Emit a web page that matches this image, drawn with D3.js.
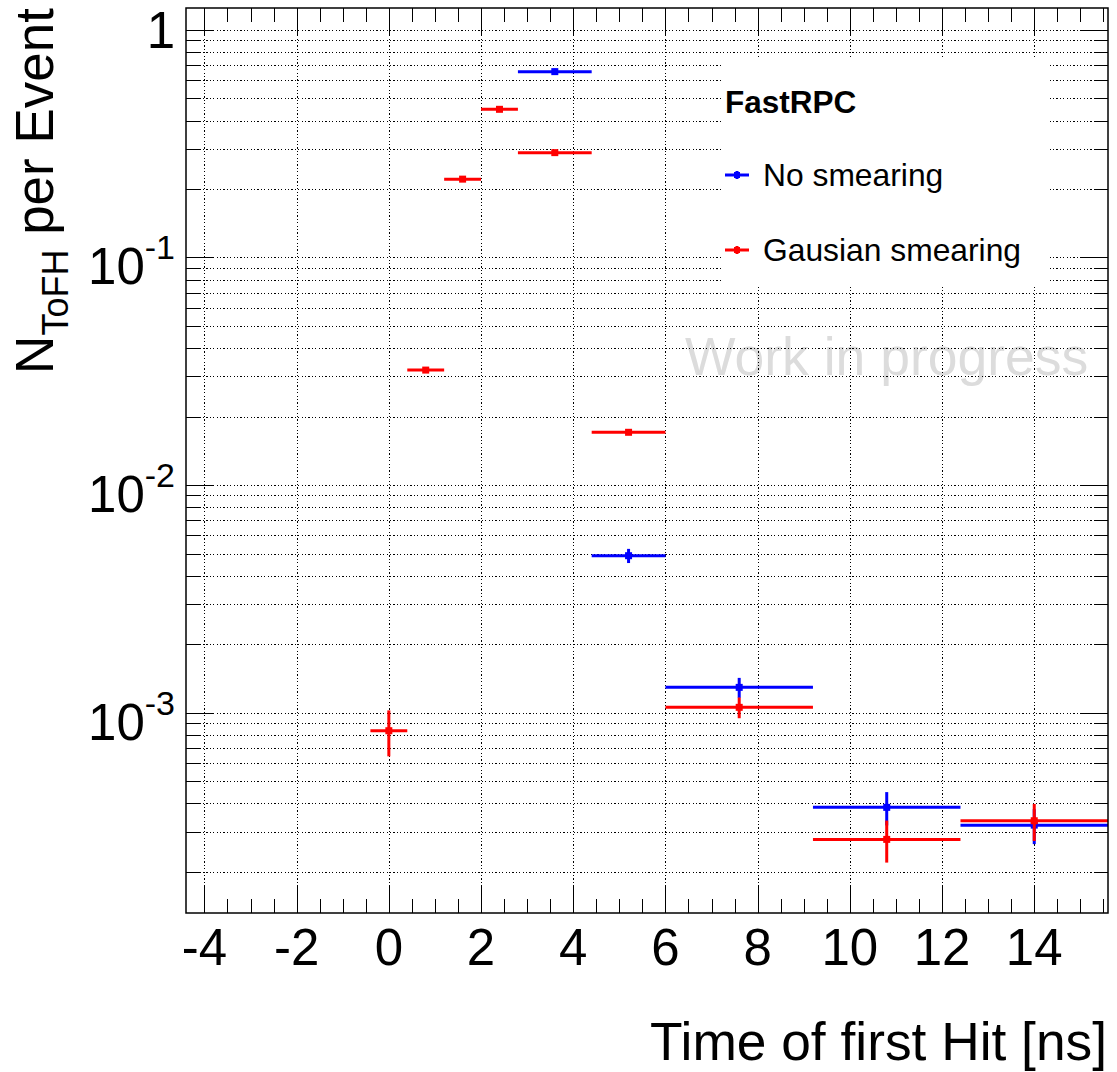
<!DOCTYPE html>
<html>
<head>
<meta charset="utf-8">
<script src="https://cdn.jsdelivr.net/npm/d3@7"></script>
<style>
  body { margin: 0; background: #fff; }
  svg { font-family: "Liberation Sans", Arial, Helvetica, sans-serif; }
</style>
</head>
<body>
<svg id="chart" width="1117" height="1072"></svg>
<script>
// bins and values for the two series
var blueLo  = [2.8, 4.4, 6.0, 9.2, 12.4];
var blueHi  = [4.4, 6.0, 9.2, 12.4, 15.6];
var blueX   = [3.6, 5.2, 7.6, 10.8, 14.0];
var blueY   = [0.656, 0.00489, 0.00129, 0.000383, 0.000320];
var blueErr = [0.02, 0.00035, 0.00013, 0.000064, 0.000056];

var redLo  = [-0.4, 0.4, 1.2, 2.0, 2.8, 4.4, 6.0, 9.2, 12.4];
var redHi  = [0.4, 1.2, 2.0, 2.8, 4.4, 6.0, 9.2, 12.4, 15.6];
var redX   = [0, 0.8, 1.6, 2.4, 3.6, 5.2, 7.6, 10.8, 14.0];
var redY   = [0.000832, 0.0320, 0.221, 0.448, 0.289, 0.01705, 0.001054, 0.000277, 0.0003345];
var redErr = [0.00019, 0.0006, 0.003, 0.005, 0.003, 0.0003, 0.00011, 0.000058, 0.000062];

var xTicks = [-4, -2, 0, 2, 4, 6, 8, 10, 12, 14];
var yDecades = [1, 0.1, 0.01, 0.001];
var yExponents = [0, -1, -2, -3];

var seriesNames = ['No smearing', 'Gausian smearing'];
var seriesColors = ['#0000ff', '#ff0000'];

var pLeft = 186, pRight = 1108, pTop = 8, pBottom = 913;

var x = d3.scaleLinear().domain([-4.4, 15.6]).range([pLeft, pRight]);
var y = d3.scaleLog().domain([1.315e-4, 1.249]).range([pBottom, pTop]);

var svg = d3.select('#chart');

// watermark (under the grid)
svg.append('text')
  .attr('x', 685)
  .attr('y', 375)
  .attr('font-size', 53.5)
  .attr('fill', '#dcdcdc')
  .text('Work in progress');

// minor values of the log axis
var yMinor = [];
for (var k = -4; k <= 0; k++) {
  for (var m = 1; m <= 9; m++) {
    var v = m * Math.pow(10, k);
    if (v >= y.domain()[0] && v <= y.domain()[1]) yMinor.push(v);
  }
}
var xMinor = d3.range(-4, 15.6, 0.5);

// grid
var grid = svg.append('g')
  .attr('stroke', '#000')
  .attr('stroke-width', 1.2)
  .attr('stroke-dasharray', '1.2,2.2')
  .attr('shape-rendering', 'crispEdges');
grid.selectAll('.gx')
  .data(xTicks)
  .enter()
  .append('line')
  .attr('x1', function(d) { return Math.round(x(d)) + 0.5; })
  .attr('x2', function(d) { return Math.round(x(d)) + 0.5; })
  .attr('y1', pTop)
  .attr('y2', pBottom);
grid.selectAll('.gy')
  .data(yMinor)
  .enter()
  .append('line')
  .attr('x1', pLeft)
  .attr('x2', pRight)
  .attr('y1', function(d) { return Math.round(y(d)) + 0.5; })
  .attr('y2', function(d) { return Math.round(y(d)) + 0.5; });

// legend box
svg.append('rect')
  .attr('x', 722)
  .attr('y', 57)
  .attr('width', 326)
  .attr('height', 230)
  .attr('fill', '#fff');

svg.append('text')
  .attr('x', 725)
  .attr('y', 113)
  .attr('font-size', 31.5)
  .attr('font-weight', 'bold')
  .text('FastRPC');

var legendRows = [175, 250];
var leg = svg.selectAll('.legend-row')
  .data(seriesNames)
  .enter()
  .append('g')
  .attr('class', 'legend-row')
  .attr('transform', function(d, i) {
    return 'translate(' + 725 + ',' + legendRows[i] + ')';
  });
leg.append('line')
  .attr('x1', 0)
  .attr('x2', 24)
  .attr('y1', 0)
  .attr('y2', 0)
  .attr('stroke', function(d, i) { return seriesColors[i]; })
  .attr('stroke-width', 3);
leg.append('line')
  .attr('x1', 12)
  .attr('x2', 12)
  .attr('y1', -4)
  .attr('y2', 4)
  .attr('stroke', function(d, i) { return seriesColors[i]; })
  .attr('stroke-width', 3);
leg.append('rect')
  .attr('x', 9)
  .attr('y', -3)
  .attr('width', 6)
  .attr('height', 6)
  .attr('fill', function(d, i) { return seriesColors[i]; });
leg.append('text')
  .attr('x', 38)
  .attr('y', 11)
  .attr('font-size', 31.8)
  .text(function(d) { return d; });

// data points with error bars
var drawSeries = function(lo, hi, cx, val, err, color) {
  var pts = val.map(function(v, i) {
    return { lo: lo[i], hi: hi[i], cx: cx[i], v: v, e: err[i] };
  });
  var g = svg.append('g');
  var p = g.selectAll('g')
    .data(pts)
    .enter()
    .append('g');
  p.append('line')
    .attr('x1', function(d) { return x(d.lo); })
    .attr('x2', function(d) { return x(d.hi); })
    .attr('y1', function(d) { return y(d.v); })
    .attr('y2', function(d) { return y(d.v); })
    .attr('stroke', color)
    .attr('stroke-width', 3);
  p.append('line')
    .attr('x1', function(d) { return x(d.cx); })
    .attr('x2', function(d) { return x(d.cx); })
    .attr('y1', function(d) { return y(d.v + d.e); })
    .attr('y2', function(d) { return y(d.v - d.e); })
    .attr('stroke', color)
    .attr('stroke-width', 3);
  p.append('rect')
    .attr('x', function(d) { return x(d.cx) - 3.5; })
    .attr('y', function(d) { return y(d.v) - 3.5; })
    .attr('width', 7)
    .attr('height', 7)
    .attr('fill', color);
};
drawSeries(blueLo, blueHi, blueX, blueY, blueErr, seriesColors[0]);
drawSeries(redLo, redHi, redX, redY, redErr, seriesColors[1]);

// frame and ticks
var axes = svg.append('g')
  .attr('stroke', '#000')
  .attr('stroke-width', 1)
  .attr('shape-rendering', 'crispEdges');

var xAll = xMinor.map(function(d) {
  return { v: d, len: (Math.abs(d % 2) < 1e-9) ? 27 : 14 };
});
axes.selectAll('.tb')
  .data(xAll)
  .enter()
  .append('line')
  .attr('x1', function(d) { return Math.round(x(d.v)) + 0.5; })
  .attr('x2', function(d) { return Math.round(x(d.v)) + 0.5; })
  .attr('y1', pBottom)
  .attr('y2', function(d) { return pBottom - d.len; });
axes.selectAll('.tt')
  .data(xAll)
  .enter()
  .append('line')
  .attr('x1', function(d) { return Math.round(x(d.v)) + 0.5; })
  .attr('x2', function(d) { return Math.round(x(d.v)) + 0.5; })
  .attr('y1', pTop)
  .attr('y2', function(d) { return pTop + d.len; });

var yAll = yMinor.map(function(d) {
  var l = Math.log10(d);
  return { v: d, len: (Math.abs(l - Math.round(l)) < 1e-9) ? 27 : 14 };
});
axes.selectAll('.tl')
  .data(yAll)
  .enter()
  .append('line')
  .attr('x1', pLeft)
  .attr('x2', function(d) { return pLeft + d.len; })
  .attr('y1', function(d) { return Math.round(y(d.v)) + 0.5; })
  .attr('y2', function(d) { return Math.round(y(d.v)) + 0.5; });
axes.selectAll('.tr')
  .data(yAll)
  .enter()
  .append('line')
  .attr('x1', pRight)
  .attr('x2', function(d) { return pRight - d.len; })
  .attr('y1', function(d) { return Math.round(y(d.v)) + 0.5; })
  .attr('y2', function(d) { return Math.round(y(d.v)) + 0.5; });

svg.append('rect')
  .attr('x', pLeft)
  .attr('y', pTop)
  .attr('width', pRight - pLeft)
  .attr('height', pBottom - pTop)
  .attr('fill', 'none')
  .attr('stroke', '#000')
  .attr('stroke-width', 1.5);

// tick labels
svg.selectAll('.xlab')
  .data(xTicks)
  .enter()
  .append('text')
  .attr('x', function(d) { return x(d); })
  .attr('y', 965)
  .attr('text-anchor', 'middle')
  .attr('font-size', 51)
  .text(function(d) { return String(d); });

var ylab = svg.selectAll('.ylab')
  .data(yDecades)
  .enter()
  .append('text')
  .attr('x', 175)
  .attr('y', function(d, i) { return y(d) + (yExponents[i] === 0 ? 18 : 27); })
  .attr('text-anchor', 'end')
  .attr('font-size', 51);
ylab.each(function(d, i) {
  var t = d3.select(this);
  if (yExponents[i] === 0) {
    t.text('1');
  } else {
    t.append('tspan').text('10');
    t.append('tspan')
      .attr('font-size', 34)
      .attr('dy', -25)
      .text(String(yExponents[i]));
  }
});

// axis titles
svg.append('text')
  .attr('x', 1107)
  .attr('y', 1060)
  .attr('text-anchor', 'end')
  .attr('font-size', 53.3)
  .text('Time of first Hit [ns]');

var yt = svg.append('text')
  .attr('transform', 'translate(53,8) rotate(-90)')
  .attr('text-anchor', 'end')
  .attr('font-size', 53);
yt.append('tspan').text('N');
yt.append('tspan').attr('font-size', 36).attr('dy', 15).text('ToFH');
yt.append('tspan').attr('dy', -15).text(' per Event');
</script>
</body>
</html>
